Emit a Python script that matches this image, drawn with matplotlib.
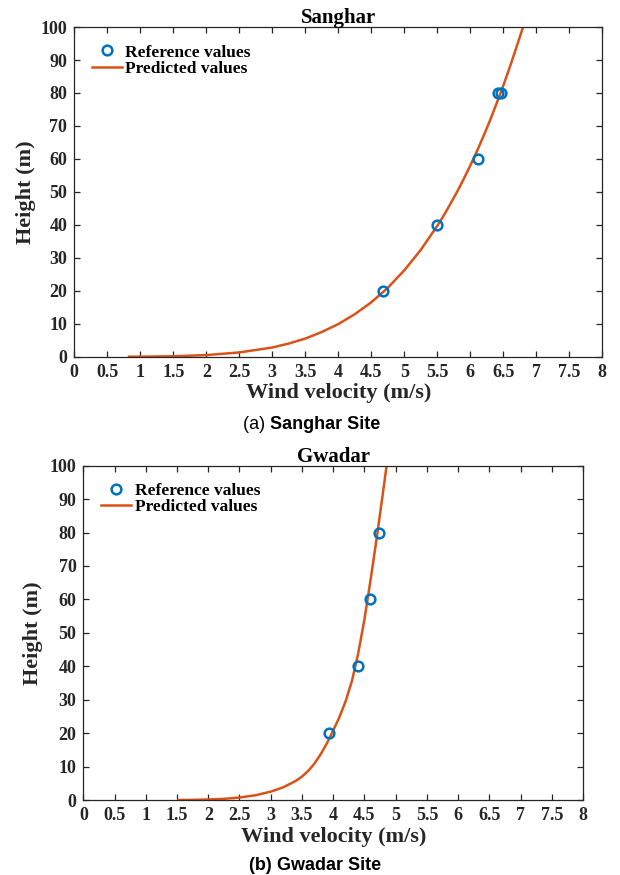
import matplotlib
matplotlib.use('Agg')
from matplotlib import pyplot as plt

# Sanghar: measured points and fitted curve
sanghar_ref_v = [4.68, 5.49, 6.12, 6.42, 6.47]
sanghar_ref_h = [20, 40, 60, 80, 80]
sanghar_fit_v = [0.83, 1.0, 1.5, 2.0, 2.5, 3.0, 3.25, 3.5, 3.75, 4.0, 4.25, 4.5, 4.75,
                 5.0, 5.25, 5.5, 5.6, 5.7, 5.8, 5.9, 6.0, 6.1, 6.2, 6.3, 6.4, 6.5,
                 6.6, 6.7, 6.8]
sanghar_fit_h = [0.0, 0.02, 0.14, 0.5, 1.3, 2.8, 4.0, 5.5, 7.5, 9.9, 12.9, 16.5, 20.9,
                 26.2, 32.4, 39.7, 42.9, 46.4, 50.0, 53.9, 58.0, 62.3, 66.9, 71.7, 76.9, 82.2,
                 87.9, 93.9, 100.0]

# Gwadar: measured points and fitted curve
gwadar_ref_v = [3.93, 4.39, 4.59, 4.73]
gwadar_ref_h = [20, 40, 60, 80]
gwadar_fit_v = [1.52, 1.75, 2.0, 2.25, 2.5, 2.75, 3.0, 3.2, 3.4, 3.5, 3.6, 3.7, 3.8,
                3.9, 4.0, 4.1, 4.2, 4.3, 4.4, 4.5, 4.6, 4.7, 4.8, 4.855]
gwadar_fit_h = [0.0, 0.05, 0.15, 0.35, 0.75, 1.4, 2.5, 3.8, 5.7, 7.0, 8.7, 10.9, 13.7,
                17.0, 20.8, 24.8, 29.6, 35.6, 43.8, 54.0, 66.0, 78.8, 92.4, 100.0]

x_ticks = [i * 0.5 for i in range(17)]
x_tick_labels = ['0', '0.5', '1', '1.5', '2', '2.5', '3', '3.5', '4', '4.5', '5', '5.5',
                 '6', '6.5', '7', '7.5', '8']
y_ticks = list(range(0, 101, 10))

SERIF = 'Liberation Serif'
DARK = '#262626'
BLUE = '#0072BD'
ORANGE = '#D95319'

fig = plt.figure(figsize=(6.2, 8.75), dpi=100)
ax_top = fig.add_axes([0.1198, 0.5923, 0.8516, 0.3768])
ax_bot = fig.add_axes([0.1344, 0.0857, 0.8060, 0.3821])


def style_panel(ax, title, ref_v, ref_h, fit_v, fit_h, ylabelpad):
    ax.plot(ref_v, ref_h, 'o', markersize=7, markerfacecolor='none',
            markeredgecolor=BLUE, markeredgewidth=1.8, label='Reference values', zorder=3)
    ax.plot(fit_v, fit_h, '-', color=ORANGE, linewidth=1.8, label='Predicted values', zorder=2)
    ax.set_xlim(0, 8)
    ax.set_ylim(0, 100)
    ax.set_xticks(x_ticks)
    ax.set_xticklabels(x_tick_labels)
    ax.set_yticks(y_ticks)
    ax.tick_params(direction='in', length=4, width=0.9, colors=DARK, top=True, right=True,
                   labelsize=13, pad=5)
    for lbl in ax.get_xticklabels() + ax.get_yticklabels():
        lbl.set_family(SERIF)
        lbl.set_fontweight('bold')
    for spine in ax.spines.values():
        spine.set_color(DARK)
        spine.set_linewidth(0.9)
    ax.set_title(title, fontsize=15, fontweight='bold', family=SERIF, color='black', pad=3)
    ax.set_xlabel('Wind velocity (m/s)', fontsize=16, fontweight='bold', family=SERIF,
                  color=DARK, labelpad=2)
    ax.set_ylabel('Height (m)', fontsize=16, fontweight='bold', family=SERIF,
                  color=DARK, labelpad=ylabelpad)
    leg = ax.legend(loc='upper left', frameon=False, handlelength=1.75, handletextpad=0.2,
                    labelspacing=0.0, borderaxespad=0.6,
                    prop={'family': SERIF, 'weight': 'bold', 'size': 12.5})
    for t in leg.get_texts():
        t.set_color('black')


style_panel(ax_top, 'Sanghar', sanghar_ref_v, sanghar_ref_h, sanghar_fit_v, sanghar_fit_h, 3)
style_panel(ax_bot, 'Gwadar', gwadar_ref_v, gwadar_ref_h, gwadar_fit_v, gwadar_fit_h, 5)

# captions below each panel
fig.text(0.436, 1 - 424 / 875, '(a) ', ha='right', va='center', fontsize=13,
         family='Liberation Sans')
fig.text(0.436, 1 - 424 / 875, 'Sanghar Site', ha='left', va='center', fontsize=13,
         family='Liberation Sans', fontweight='bold')
fig.text(0.447, 1 - 866 / 875, '(b) ', ha='right', va='center', fontsize=13,
         family='Liberation Sans', fontweight='bold')
fig.text(0.447, 1 - 866 / 875, 'Gwadar Site', ha='left', va='center', fontsize=13,
         family='Liberation Sans', fontweight='bold')

fig.savefig('out.png', dpi=100)
plt.close(fig)
